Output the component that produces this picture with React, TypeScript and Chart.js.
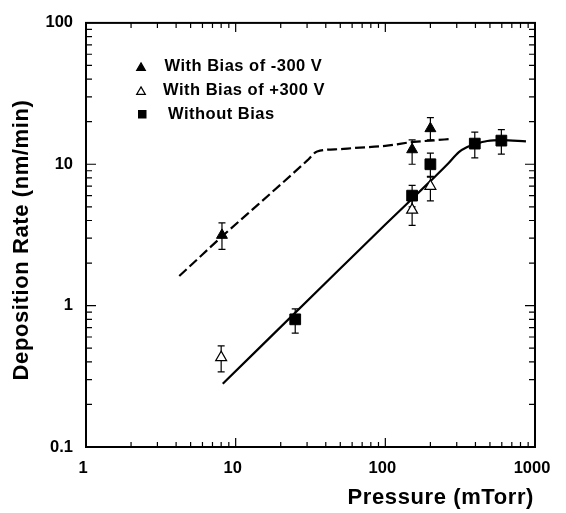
import React, { useEffect, useRef } from 'react';
import { Chart, registerables } from 'chart.js';

Chart.register(...registerables);

// ---- Data ----
const negBiasPressure = [8.1, 151, 200];
const negBiasRate = [3.15, 12.7, 17.9];
const negBiasLow = [2.5, 10.0, 14.9];
const negBiasHigh = [3.85, 14.9, 21.4];

const posBiasPressure = [8.0, 151, 200];
const posBiasRate = [0.43, 4.75, 7.0];
const posBiasLow = [0.34, 3.7, 5.5];
const posBiasHigh = [0.52, 5.7, 8.1];

const noBiasPressure = [25, 151, 200, 396, 596];
const noBiasRate = [0.8, 6.0, 10.0, 14.0, 14.7];
const noBiasLow = [0.64, 5.0, 8.2, 11.1, 11.8];
const noBiasHigh = [0.95, 7.1, 12.0, 16.9, 17.6];

const dashFitPressure = [4.2, 6, 8, 12, 20, 30, 35, 50, 60, 100, 155, 200, 275];
const dashFitRate = [1.62, 2.3, 3.05, 4.46, 7.2, 10.6, 12.3, 12.8, 13.0, 13.5, 14.4, 14.7, 15.1];

const solidFitPressure = [8.2, 50, 100, 200, 260, 310, 350, 400, 480, 600, 870];
const solidFitRate = [0.28, 1.83, 3.75, 7.6, 10.0, 12.2, 13.2, 13.9, 14.6, 14.8, 14.5];

const xTickValues = [1, 10, 100, 1000];
const yTickValues = [0.1, 1, 10, 100];
const legendLabels = ['With Bias of -300 V', 'With Bias of +300 V', 'Without Bias'];
const xTitle = 'Pressure (mTorr)';
const yTitle = 'Deposition Rate (nm/min)';

const FONT = '"Liberation Sans", Arial, Helvetica, sans-serif';

const zip = (xs: number[], ys: number[]) => xs.map((x, i) => ({ x, y: ys[i] }));

function drawTri(ctx: CanvasRenderingContext2D, x: number, y: number, r: number, fill: string) {
  ctx.beginPath();
  let rad = 0;
  for (let k = 0; k < 3; k++) {
    const px = x + Math.sin(rad) * r;
    const py = y - Math.cos(rad) * r;
    if (k === 0) ctx.moveTo(px, py);
    else ctx.lineTo(px, py);
    rad += (2 * Math.PI) / 3;
  }
  ctx.closePath();
  ctx.fillStyle = fill;
  ctx.fill();
  ctx.lineWidth = 1.2;
  ctx.strokeStyle = '#000';
  ctx.stroke();
}

const errorBarPlugin = {
  id: 'errorBars',
  beforeDatasetsDraw(chart: any) {
    const { ctx, scales } = chart;
    const xs = scales.x;
    const ys = scales.y;
    const groups = [
      [negBiasPressure, negBiasLow, negBiasHigh],
      [posBiasPressure, posBiasLow, posBiasHigh],
      [noBiasPressure, noBiasLow, noBiasHigh],
    ];
    ctx.save();
    ctx.strokeStyle = '#000';
    ctx.lineWidth = 1.2;
    for (const [px, lo, hi] of groups) {
      for (let i = 0; i < px.length; i++) {
        const x = xs.getPixelForValue(px[i]);
        const y1 = ys.getPixelForValue(lo[i]);
        const y2 = ys.getPixelForValue(hi[i]);
        ctx.beginPath();
        ctx.moveTo(x, y1);
        ctx.lineTo(x, y2);
        ctx.moveTo(x - 3.5, y1);
        ctx.lineTo(x + 3.5, y1);
        ctx.moveTo(x - 3.5, y2);
        ctx.lineTo(x + 3.5, y2);
        ctx.stroke();
      }
    }
    ctx.restore();
  },
};

const framePlugin = {
  id: 'frameAndText',
  afterDraw(chart: any) {
    const { ctx, chartArea, scales } = chart;
    const { left, right, top, bottom } = chartArea;
    const xs = scales.x;
    const ys = scales.y;
    ctx.save();
    ctx.strokeStyle = '#000';
    // inward ticks
    ctx.lineWidth = 1.2;
    ctx.beginPath();
    for (let d = 0; d <= 2; d++) {
      for (let k = 1; k <= 9; k++) {
        const v = k * Math.pow(10, d);
        if (v <= 1 || v >= 1000) continue;
        const x = xs.getPixelForValue(v);
        const len = k === 1 ? 9 : 5;
        ctx.moveTo(x, bottom);
        ctx.lineTo(x, bottom - len);
        ctx.moveTo(x, top);
        ctx.lineTo(x, top + len);
      }
    }
    for (let d = -1; d <= 1; d++) {
      for (let k = 1; k <= 9; k++) {
        const v = k * Math.pow(10, d);
        if (v <= 0.1 || v >= 100) continue;
        const y = ys.getPixelForValue(v);
        const len = k === 1 ? 10 : 6;
        ctx.moveTo(left, y);
        ctx.lineTo(left + len, y);
        ctx.moveTo(right, y);
        ctx.lineTo(right - len, y);
      }
    }
    ctx.stroke();
    // frame
    ctx.lineWidth = 2;
    ctx.strokeRect(left, top, right - left, bottom - top);

    // axis titles
    ctx.fillStyle = '#000';
    (ctx as any).letterSpacing = '0.6px';
    ctx.font = `bold 22px ${FONT}`;
    ctx.textAlign = 'right';
    ctx.textBaseline = 'middle';
    ctx.fillText(xTitle, 534, 498);

    ctx.save();
    ctx.translate(22, 240);
    ctx.rotate(-Math.PI / 2);
    ctx.textAlign = 'center';
    ctx.fillText(yTitle, 0, 0);
    ctx.restore();

    // legend
    const rows = [66.7, 90.7, 114.3];
    drawTri(ctx, 141, rows[0] + 1.2, 5, '#000');
    drawTri(ctx, 141, rows[1] + 1.2, 5, '#fff');
    ctx.fillStyle = '#000';
    ctx.fillRect(138, rows[2] - 4.3, 8.5, 8.5);
    (ctx as any).letterSpacing = '0.5px';
    ctx.font = `bold 16.5px ${FONT}`;
    ctx.textAlign = 'left';
    ctx.textBaseline = 'middle';
    const textX = [164.5, 163, 168];
    legendLabels.forEach((t, i) => ctx.fillText(t, textX[i], rows[i]));
    ctx.restore();
  },
};

export default function App() {
  const ref = useRef<HTMLCanvasElement | null>(null);

  useEffect(() => {
    if (!ref.current) return;
    const tickFont = { family: FONT, size: 16.5, weight: 'bold' as const };
    const chart = new Chart(ref.current, {
      type: 'scatter',
      data: {
        datasets: [
          {
            label: 'dash fit',
            data: zip(dashFitPressure, dashFitRate),
            showLine: true,
            borderColor: '#000',
            borderWidth: 2.2,
            borderDash: [10, 4],
            pointRadius: 0,
            cubicInterpolationMode: 'monotone',
            order: 2,
          },
          {
            label: 'solid fit',
            data: zip(solidFitPressure, solidFitRate),
            showLine: true,
            borderColor: '#000',
            borderWidth: 2.2,
            pointRadius: 0,
            cubicInterpolationMode: 'monotone',
            order: 2,
          },
          {
            label: legendLabels[0],
            data: zip(negBiasPressure, negBiasRate),
            pointStyle: 'triangle',
            pointRadius: 6.3,
            backgroundColor: '#000',
            borderColor: '#000',
            borderWidth: 1,
            order: 1,
          },
          {
            label: legendLabels[1],
            data: zip(posBiasPressure, posBiasRate),
            pointStyle: 'triangle',
            pointRadius: 6.3,
            backgroundColor: '#fff',
            borderColor: '#000',
            borderWidth: 1.2,
            order: 1,
          },
          {
            label: legendLabels[2],
            data: zip(noBiasPressure, noBiasRate),
            pointStyle: 'rect',
            pointRadius: 7.6,
            backgroundColor: '#000',
            borderColor: '#000',
            borderWidth: 1,
            order: 1,
          },
        ],
      },
      options: {
        animation: false,
        responsive: false,
        maintainAspectRatio: false,
        layout: { padding: { top: 14, right: 31, left: 0, bottom: 0 } },
        plugins: { legend: { display: false }, tooltip: { enabled: false } },
        scales: {
          x: {
            type: 'logarithmic',
            min: 1,
            max: 1000,
            grid: { display: false, drawTicks: false },
            border: { display: false },
            ticks: {
              color: '#000',
              font: tickFont,
              padding: 12,
              labelOffset: -3,
              maxRotation: 0,
              autoSkip: false,
              callback: (v: any) => String(v),
            },
            afterBuildTicks: (s: any) => {
              s.ticks = xTickValues.map((v) => ({ value: v }));
            },
            afterFit: (s: any) => {
              s.height = 66;
            },
          },
          y: {
            type: 'logarithmic',
            min: 0.1,
            max: 100,
            grid: { display: false, drawTicks: false },
            border: { display: false },
            ticks: {
              color: '#000',
              font: tickFont,
              padding: 13,
              autoSkip: false,
              callback: (v: any) => String(v),
            },
            afterBuildTicks: (s: any) => {
              s.ticks = yTickValues.map((v) => ({ value: v }));
            },
            afterFit: (s: any) => {
              s.width = 86;
            },
          },
        },
      } as any,
      plugins: [errorBarPlugin, framePlugin],
    });
    return () => chart.destroy();
  }, []);

  return (
    <div style={{ position: 'absolute', left: 0, top: 0, width: 566, height: 513, background: '#fff' }}>
      <canvas ref={ref} width={566} height={513} style={{ display: 'block' }} />
    </div>
  );
}
